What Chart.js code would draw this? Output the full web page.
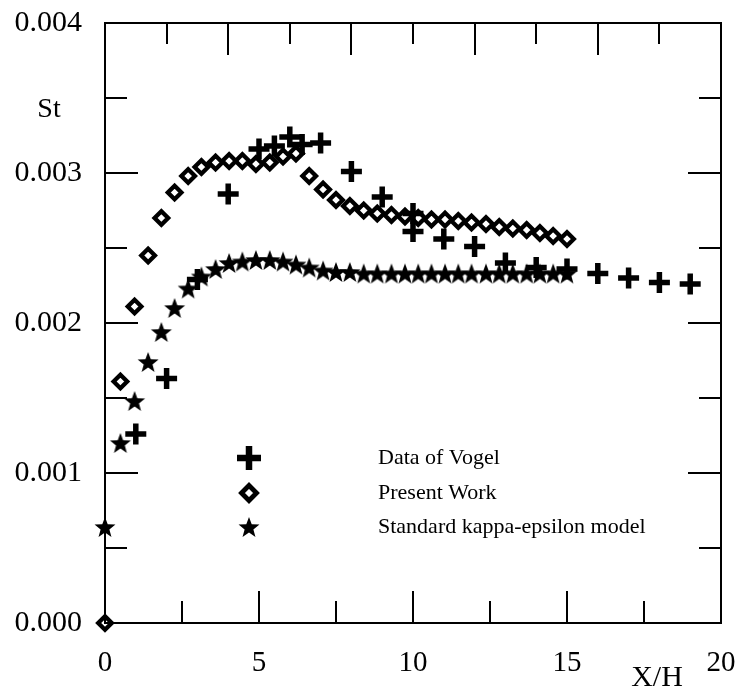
<!DOCTYPE html>
<html>
<head>
<meta charset="utf-8">
<script src="https://cdn.jsdelivr.net/npm/chart.js@4"></script>
<style>
  body { margin: 0; background: #fff; }
  canvas { display: block; }
</style>
</head>
<body>
<canvas id="stantonChart" width="740" height="689"></canvas>
<script>
// St along the wall, X/H downstream of the step
const vogelX = [1, 2, 3, 4, 5, 5.5, 6, 6.4, 7, 8, 9, 10, 10, 11, 12, 13, 14, 15, 16, 17, 18, 19];
const vogelSt = [0.00126, 0.00163, 0.00229, 0.00286, 0.00316, 0.00318, 0.00324, 0.00319, 0.0032, 0.00301,
  0.00284, 0.00273, 0.00261, 0.00256, 0.00251, 0.0024, 0.00237, 0.00236, 0.00233, 0.0023, 0.00227, 0.00226];

const modelX = [0, 0.5, 0.96, 1.4, 1.83, 2.26, 2.7, 3.13, 3.59, 4.03, 4.46, 4.9, 5.35, 5.78, 6.2, 6.63,
  7.08, 7.5, 7.95, 8.4, 8.84, 9.3, 9.74, 10.17, 10.6, 11.04, 11.47, 11.9, 12.37, 12.8, 13.24, 13.69,
  14.12, 14.55, 15.0];
const presentSt = [0, 0.00161, 0.00211, 0.00245, 0.0027, 0.00287, 0.00298, 0.00304, 0.00307, 0.00308,
  0.00308, 0.00306, 0.00307, 0.00311, 0.00313, 0.00298, 0.00289, 0.00282, 0.00278, 0.00275, 0.00273,
  0.00272, 0.00271, 0.0027, 0.00269, 0.00269, 0.00268, 0.00267, 0.00266, 0.00264, 0.00263, 0.00262,
  0.0026, 0.00258, 0.00256];
const kepsSt = [0.00064, 0.0012, 0.00148, 0.00174, 0.00194, 0.0021, 0.00223, 0.00231, 0.00236, 0.0024,
  0.00241, 0.00242, 0.00242, 0.00241, 0.00239, 0.00237, 0.00235, 0.00234, 0.00234, 0.00233, 0.00233,
  0.00233, 0.00233, 0.00233, 0.00233, 0.00233, 0.00233, 0.00233, 0.00233, 0.00233, 0.00233, 0.00233,
  0.00233, 0.00233, 0.00233];

const seriesLabels = ['Data of Vogel', 'Present Work', 'Standard kappa-epsilon model'];
const xTickValues = [0, 5, 10, 15, 20];
const yTickValues = [0, 0.001, 0.002, 0.003, 0.004];

const serif = 'Liberation Serif, Times New Roman, serif';

// filled five point star used as a point style
function makeStar(size) {
  const c = document.createElement('canvas');
  c.width = size; c.height = size;
  const g = c.getContext('2d');
  const cx = size / 2, cy = size / 2 + 1, R = size / 2 - 1, r = R * 0.42;
  g.beginPath();
  for (let i = 0; i < 10; i++) {
    const a = -Math.PI / 2 + i * Math.PI / 5;
    const rad = i % 2 ? r : R;
    g.lineTo(cx + rad * Math.cos(a), cy + rad * Math.sin(a));
  }
  g.closePath();
  g.fillStyle = '#000';
  g.fill();
  return c;
}
const star = makeStar(24);

const pts = (xs, ys) => xs.map((x, i) => ({ x: x, y: ys[i] }));

// fixed axis boxes, no extra room for overhanging labels
const fixBox = size => s => {
  if (s.isHorizontal()) s.height = size; else s.width = size;
  s.paddingTop = s.paddingBottom = s.paddingLeft = s.paddingRight = 0;
};

// inward tick marks, frame, axis names and the legend block
const framePlugin = {
  id: 'frame',
  beforeDatasetsDraw(chart) {
    const { ctx, chartArea: a, scales: { x, y } } = chart;
    ctx.save();
    ctx.strokeStyle = '#000';
    ctx.lineWidth = 2;
    ctx.strokeRect(a.left, a.top, a.right - a.left, a.bottom - a.top);
    ctx.beginPath();
    for (let v = 0; v <= 0.004 + 1e-9; v += 0.0005) {
      const py = Math.round(y.getPixelForValue(v));
      const len = Math.abs(v / 0.001 - Math.round(v / 0.001)) < 1e-6 ? 33 : 22;
      ctx.moveTo(a.left, py); ctx.lineTo(a.left + len, py);
      ctx.moveTo(a.right, py); ctx.lineTo(a.right - len, py);
    }
    for (let v = 2.5; v < 20; v += 2.5) {
      const px = Math.round(x.getPixelForValue(v));
      const len = v % 5 === 0 ? 32 : 22;
      ctx.moveTo(px, a.bottom); ctx.lineTo(px, a.bottom - len);
    }
    for (let v = 2; v < 20; v += 2) {
      const px = Math.round(x.getPixelForValue(v));
      const len = v % 4 === 0 ? 32 : 21;
      ctx.moveTo(px, a.top); ctx.lineTo(px, a.top + len);
    }
    ctx.stroke();

    ctx.fillStyle = '#000';
    ctx.textBaseline = 'middle';
    ctx.textAlign = 'center';
    ctx.font = '28px ' + serif;
    ctx.fillText('St', 49, 110);
    ctx.font = '30px ' + serif;
    ctx.fillText('X/H', 657, 678);
    ctx.restore();
  },
  afterDraw(chart) {
    const { ctx } = chart;
    const rows = [458, 493, 527];
    ctx.save();
    ctx.lineJoin = 'miter';
    chart.data.datasets.forEach((ds, i) => {
      ctx.fillStyle = '#fff';
      ctx.strokeStyle = '#000';
      ctx.lineWidth = ds.legendBorder;
      Chart.helpers.drawPoint(ctx, {
        pointStyle: ds.pointStyle,
        radius: ds.legendRadius,
        borderWidth: ds.legendBorder,
        rotation: 0
      }, 249, rows[i]);
      ctx.fillStyle = '#000';
      ctx.font = '22px ' + serif;
      ctx.textAlign = 'left';
      ctx.textBaseline = 'middle';
      ctx.fillText(ds.label, 378, rows[i]);
    });
    ctx.restore();
  }
};

new Chart(document.getElementById('stantonChart'), {
  type: 'scatter',
  data: {
    datasets: [{
      label: seriesLabels[0],
      data: pts(vogelX, vogelSt),
      pointStyle: 'cross',
      pointRadius: 10.5,
      pointBorderWidth: 5.5,
      legendRadius: 12,
      legendBorder: 6.5,
      borderColor: '#000',
      backgroundColor: '#000',
      clip: false
    }, {
      label: seriesLabels[1],
      data: pts(modelX, presentSt),
      pointStyle: 'rectRot',
      pointRadius: 6.8,
      pointBorderWidth: 4.3,
      legendRadius: 7.5,
      legendBorder: 4.8,
      borderColor: '#000',
      backgroundColor: 'rgba(0,0,0,0)',
      clip: false
    }, {
      label: seriesLabels[2],
      data: pts(modelX, kepsSt),
      pointStyle: star,
      pointRadius: 11,
      pointBorderWidth: 0,
      legendRadius: 11,
      legendBorder: 0,
      borderColor: '#000',
      backgroundColor: '#000',
      clip: false
    }]
  },
  options: {
    responsive: false,
    animation: false,
    events: [],
    layout: { padding: { top: 23, right: 19, left: 0, bottom: 0 } },
    plugins: { legend: { display: false }, tooltip: { enabled: false } },
    scales: {
      x: {
        type: 'linear',
        min: 0,
        max: 20,
        afterFit: fixBox(66),
        afterBuildTicks: s => { s.ticks = xTickValues.map(v => ({ value: v })); },
        grid: { display: false, drawTicks: false },
        border: { display: false },
        ticks: {
          padding: 23,
          color: '#000',
          maxRotation: 0,
          autoSkip: false,
          font: { family: serif, size: 29 },
          callback: v => String(v)
        }
      },
      y: {
        min: 0,
        max: 0.004,
        afterFit: fixBox(105),
        afterBuildTicks: s => { s.ticks = yTickValues.map(v => ({ value: v })); },
        grid: { display: false, drawTicks: false },
        border: { display: false },
        ticks: {
          padding: 23,
          color: '#000',
          font: { family: serif, size: 30 },
          callback: v => v.toFixed(3)
        }
      }
    }
  },
  plugins: [framePlugin]
});
</script>
</body>
</html>
